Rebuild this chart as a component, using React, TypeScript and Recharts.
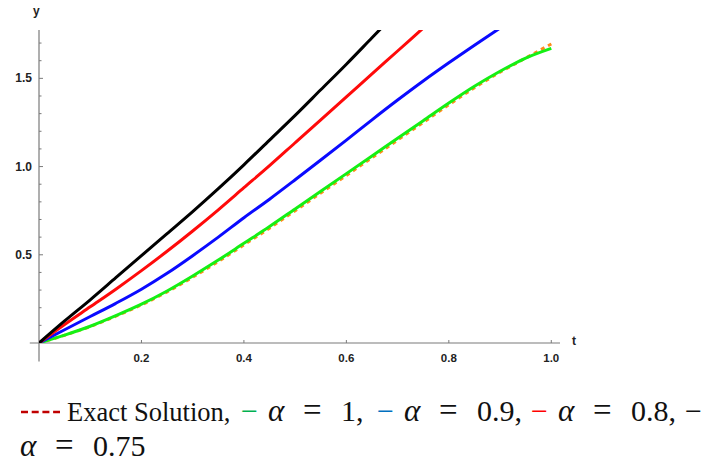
import React from "react";
import { LineChart, Line, XAxis, YAxis, ReferenceLine } from "recharts";

// ---- data ----
const tBlack = [0, 0.05, 0.1, 0.15, 0.2, 0.25, 0.3, 0.35, 0.4, 0.45, 0.5, 0.55, 0.6, 0.65, 0.7];
const yBlack = [0, 0.125, 0.245, 0.37, 0.495, 0.62, 0.745, 0.875, 1.01, 1.15, 1.29, 1.435, 1.58, 1.73, 1.88];

const tRed = [0, 0.05, 0.1, 0.15, 0.2, 0.25, 0.3, 0.35, 0.4, 0.45, 0.5, 0.55, 0.6, 0.65, 0.7, 0.75, 0.8];
const yRed = [0, 0.105, 0.205, 0.305, 0.41, 0.52, 0.635, 0.755, 0.88, 1.005, 1.135, 1.265, 1.395, 1.525, 1.655, 1.785, 1.915];

const tBlue = [0, 0.05, 0.1, 0.15, 0.2, 0.25, 0.3, 0.35, 0.4, 0.45, 0.5, 0.55, 0.6, 0.65, 0.7, 0.75, 0.8, 0.85, 0.9, 0.95];
const yBlue = [0, 0.075, 0.15, 0.225, 0.305, 0.395, 0.495, 0.6, 0.71, 0.815, 0.925, 1.037, 1.15, 1.265, 1.377, 1.485, 1.588, 1.688, 1.785, 1.88];

const tGreen = [0, 0.05, 0.1, 0.15, 0.2, 0.25, 0.3, 0.35, 0.4, 0.45, 0.5, 0.55, 0.6, 0.65, 0.7, 0.75, 0.8, 0.85, 0.9, 0.95, 1.0];
const yGreen = [0, 0.045, 0.095, 0.155, 0.22, 0.295, 0.38, 0.47, 0.565, 0.66, 0.76, 0.86, 0.96, 1.06, 1.16, 1.26, 1.36, 1.455, 1.54, 1.615, 1.67];
const yExact = [0, 0.044, 0.093, 0.152, 0.216, 0.29, 0.373, 0.462, 0.556, 0.651, 0.75, 0.85, 0.95, 1.05, 1.15, 1.25, 1.35, 1.447, 1.535, 1.615, 1.695];

const xTicks = [0.2, 0.4, 0.6, 0.8, 1.0];
const xTickLabels = ["0.2", "0.4", "0.6", "0.8", "1.0"];
const yTicks = [0.1, 0.2, 0.3, 0.4, 0.5, 0.6, 0.7, 0.8, 0.9, 1.0, 1.1, 1.2, 1.3, 1.4, 1.5, 1.6, 1.7];
const yMajor = [0.5, 1.0, 1.5];
const yMajorLabels = ["0.5", "1.0", "1.5"];

const toRows = (ts: number[], ys: number[]) => ts.map((t, i) => ({ t, v: ys[i] }));
const blackData = toRows(tBlack, yBlack);
const redData = toRows(tRed, yRed);
const blueData = toRows(tBlue, yBlue);
const greenData = toRows(tGreen, yGreen);
const exactData = toRows(tGreen, yExact);

const AXIS = "#7a7a7a";
const TICKFONT = "'Liberation Sans', Arial, sans-serif";
const SERIF = "'Liberation Serif', 'Times New Roman', serif";

const XTick = (props: any) => {
  const { x, y, payload } = props;
  const i = xTicks.findIndex((v) => Math.abs(v - payload.value) < 1e-6);
  return (
    <g>
      <line x1={x} x2={x} y1={y} y2={y - 3} stroke={AXIS} strokeWidth={1} />
      <text x={x} y={y + 19} textAnchor="middle" fontFamily={TICKFONT} fontWeight="bold" fontSize={11.5} fill="#222">
        {i >= 0 ? xTickLabels[i] : ""}
      </text>
    </g>
  );
};

const YTick = (props: any) => {
  const { x, y, payload } = props;
  const i = yMajor.findIndex((v) => Math.abs(v - payload.value) < 1e-6);
  const major = i >= 0;
  return (
    <g>
      <line x1={x} x2={x + (major ? 4 : 2.5)} y1={y} y2={y} stroke={AXIS} strokeWidth={1} />
      {major && (
        <text x={x - 7} y={y + 4} textAnchor="end" fontFamily={TICKFONT} fontWeight="bold" fontSize={12} fill="#222">
          {yMajorLabels[i]}
        </text>
      )}
    </g>
  );
};

const MathEq = ({ x, y, rhs }: { x: number; y: number; rhs: string }) => (
  <g fontFamily={SERIF} fill="#111">
    <text x={x} y={y} fontSize={31} fontStyle="italic">α</text>
    <text x={x + 35} y={y} fontSize={33}>=</text>
    <text x={x + 73} y={y} fontSize={30}>{rhs}</text>
  </g>
);

const Dash = ({ x, y, color }: { x: number; y: number; color: string }) => (
  <text x={x} y={y} fontFamily={SERIF} fontSize={30} fill={color}>−</text>
);

export default function App() {
  const y1 = 421;
  const y2 = 456;
  return (
    <div style={{ position: "absolute", left: 0, top: 0, width: 702, height: 465, background: "#fff", overflow: "hidden" }}>
      <LineChart width={702} height={380} margin={{ top: 30, right: 142, bottom: 7, left: 10 }}>
        <XAxis
          dataKey="t"
          type="number"
          domain={[0, 1.017]}
          ticks={xTicks}
          interval={0}
          axisLine={false}
          tickLine={false}
          tickSize={0}
          tickMargin={0}
          tick={<XTick />}
          height={30}
          allowDataOverflow
        />
        <YAxis
          dataKey="v"
          type="number"
          domain={[0, 1.774]}
          ticks={yTicks}
          interval={0}
          axisLine={false}
          tickLine={false}
          tickSize={0}
          tickMargin={0}
          tick={<YTick />}
          width={29}
          allowDataOverflow
        />
        <ReferenceLine segment={[{ x: -0.018, y: 0 }, { x: 1.017, y: 0 }]} stroke={AXIS} strokeWidth={1.2} ifOverflow="visible" />
        <ReferenceLine segment={[{ x: 0, y: -0.105 }, { x: 0, y: 1.774 }]} stroke={AXIS} strokeWidth={1.2} ifOverflow="visible" />
        <Line data={exactData} dataKey="v" type="monotone" stroke="#ff8c1a" strokeWidth={3} strokeDasharray="4 4" dot={false} isAnimationActive={false} />
        <Line data={greenData} dataKey="v" type="monotone" stroke="#14f014" strokeWidth={3} dot={false} isAnimationActive={false} />
        <Line data={blueData} dataKey="v" type="monotone" stroke="#0a0aff" strokeWidth={3} dot={false} isAnimationActive={false} />
        <Line data={redData} dataKey="v" type="monotone" stroke="#ff0a0a" strokeWidth={3} dot={false} isAnimationActive={false} />
        <Line data={blackData} dataKey="v" type="monotone" stroke="#000" strokeWidth={3} dot={false} isAnimationActive={false} />
      </LineChart>
      <div style={{ position: "absolute", left: 33, top: 4, fontFamily: TICKFONT, fontWeight: "bold", fontSize: 12, color: "#222" }}>y</div>
      <div style={{ position: "absolute", left: 572, top: 334, fontFamily: TICKFONT, fontWeight: "bold", fontSize: 12, color: "#222" }}>t</div>
      <svg width={702} height={465} style={{ position: "absolute", left: 0, top: 0, pointerEvents: "none" }}>
        <line x1={21} x2={60} y1={y1 - 9} y2={y1 - 9} stroke="#c00000" strokeWidth={2.5} strokeDasharray="7 3.7" />
        <text x={67} y={y1} fontFamily={SERIF} fontSize={26.5} fill="#111">Exact Solution,</text>
        <Dash x={241} y={y1} color="#00b050" />
        <MathEq x={268} y={y1} rhs="1," />
        <Dash x={377} y={y1} color="#0070c0" />
        <MathEq x={404} y={y1} rhs="0.9," />
        <Dash x={531} y={y1} color="#ff0000" />
        <MathEq x={558} y={y1} rhs="0.8," />
        <Dash x={685} y={y1} color="#111" />
        <MathEq x={20} y={y2} rhs="0.75" />
      </svg>
    </div>
  );
}
